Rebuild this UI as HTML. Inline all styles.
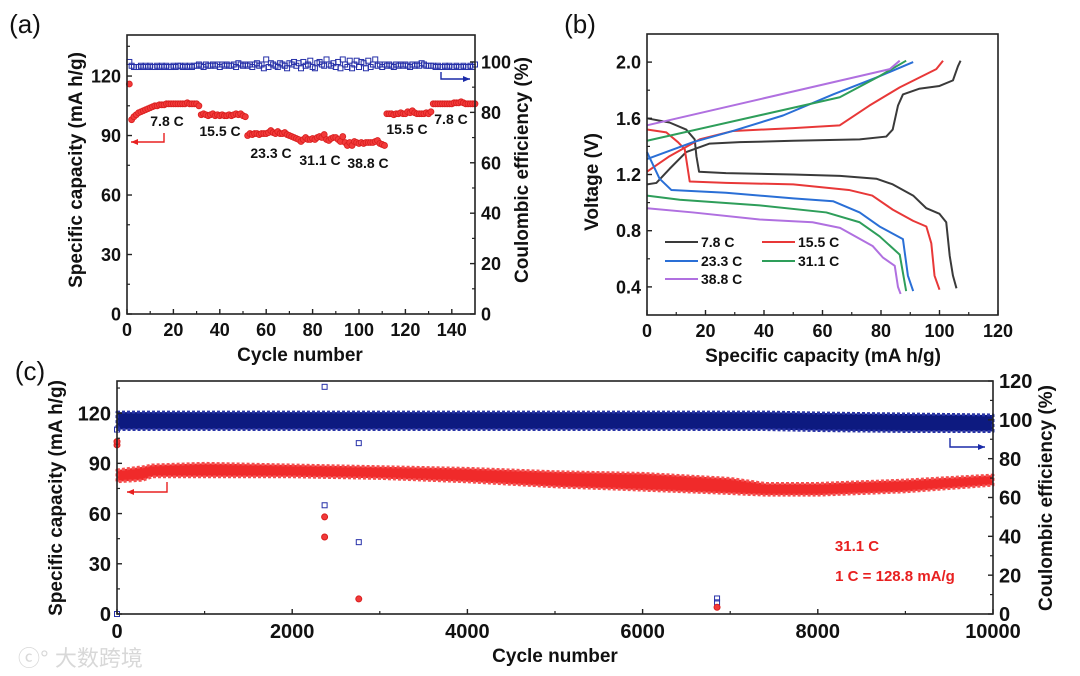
<!DOCTYPE html>
<html><head><meta charset="utf-8"><style>
html,body{margin:0;padding:0;background:#fff;}
svg{display:block;font-family:"Liberation Sans",Arial,sans-serif;}
.t{font-weight:bold;fill:#111;}
</style></head><body>
<svg id="fig" width="1080" height="676" viewBox="0 0 1080 676" xmlns="http://www.w3.org/2000/svg">
<g id="wm"><text x="18" y="666" font-size="22" fill="#d8d8d8" font-family="'Liberation Sans','Noto Sans CJK SC',sans-serif">ⓒ° 大数跨境</text></g>
</svg>
<script>
// ---------- Panel (a) data ----------
const aCap = [116,
98,99.5,100.5,101.5,102,102.5,103,103.5,104,104.5,105,105,105.5,105.5,105.5,106,106,106,106,106,106,106,106,106,106.5,106,106,106,106,105,
100.5,101,100.5,100,100.5,101,100,100.5,100,100.5,100,100,100.5,100,100.5,101,100.5,101,100,99.5,
90,91,90.5,91,91,90.5,91,91,91,91.5,92.5,91.5,91,92,91,91,91.5,90.5,90,89.5,
89,88.5,88,87,88,89,88,88,88.5,88,89,89.5,89,90.5,88,87.5,88.5,89,89,88,
87,89.5,86.5,85,86.5,85,87,86.5,86,86.5,86,86.5,86.5,86.5,86.5,87,87.5,86,85.5,85,
101,101,101,100.5,101,101,101.5,101,101,102,101.5,102.5,101.5,101,101,101,101,101.5,101,102,
106,106,106,106,106,106,106,106,106,106.5,106.5,106.5,107,106.5,106,106,106,106,106];
const aCE = [100,
98.5,98,98,98,98.5,98,98.5,98,98.5,98,98,98.5,98,98.5,98,98.5,98,98,98.5,98,98.5,98.5,98,98.5,98,98.5,98,98.5,98.5,
99,98.5,98,99,98.5,98.5,99,98.5,99,98,99,98.5,99,98.5,98.5,99,98,99.5,99,98.5,
99,98.5,99,98,99,99.5,98.5,99,97.5,101,98,99.5,99,98.5,98,99.5,99,98.5,97.5,99.5,
99,100,98.5,99.5,97.5,100,98.5,99,100.5,98,97.5,99.5,100,99,98.5,101,99,98.5,99.5,98,
100,97.5,101,99,98,100.5,97.5,99,100.5,98,100,99.5,97.5,100.5,98,99,101,98.5,99,98,
99,98.5,99,98.5,98,99,98.5,99,98.5,99,98.5,98,99,98.5,99,98.5,99.5,99,98.5,98.5,
98.5,98.5,98,98.5,98,98,98.5,98,98.5,98,98,98.5,98,98,98.5,98,98,98.5,98,99];
const aXTicks = [0,20,40,60,80,100,120,140];
const aYLTicks = [0,30,60,90,120];
const aYRTicks = [0,20,40,60,80,100];
const aRateLabels = ["7.8 C","15.5 C","23.3 C","31.1 C","38.8 C","15.5 C","7.8 C"];

// ---------- Panel (b) data ----------
const bNames = ["7.8 C","15.5 C","23.3 C","31.1 C","38.8 C"];
const bChargeCap = [
 [0,3.2,7.7,13.4,21.4,31.7,50,72.7,81.8,84,85.8,87.5,93,100,104.6,106.3,107.2],
 [0,7.7,18,29.4,50,65.9,76,86.4,98.9,101.2],
 [0,15.7,29.4,46.5,63.6,78.4,91],
 [0,65.9,79.5,88.6],
 [0,83,86.4]];
const bChargeV = [
 [1.13,1.14,1.24,1.36,1.42,1.43,1.44,1.45,1.47,1.52,1.69,1.77,1.81,1.83,1.87,1.97,2.01],
 [1.22,1.33,1.45,1.51,1.53,1.55,1.69,1.82,1.95,2.01],
 [1.31,1.43,1.51,1.62,1.77,1.89,2.0],
 [1.44,1.75,1.9,2.01],
 [1.55,1.95,2.01]];
const bDisCap = [
 [0,7.7,13.4,16.3,16.9,17.8,27,50,66,78.4,84,91,95.5,100,102.3,103.5,104.6,105.8],
 [0,6.6,10.6,12.9,14.6,27,50,69,77,84,91,95.5,97.2,98.3,100],
 [0,4.3,8.3,27,50,63.6,72.7,79.5,87.5,89.2,91],
 [0,11.2,38.5,61.3,72.7,79.5,86.4,87.5,88.6],
 [0,15.7,38.5,56.6,66,77.2,80.6,84.7,85.8,86.7]];
const bDisV = [
 [1.6,1.57,1.52,1.45,1.33,1.22,1.21,1.2,1.19,1.17,1.13,1.05,0.96,0.92,0.86,0.62,0.48,0.39],
 [1.52,1.5,1.43,1.38,1.15,1.14,1.13,1.09,1.05,0.95,0.87,0.83,0.71,0.48,0.38],
 [1.36,1.17,1.09,1.07,1.03,1.01,0.93,0.83,0.74,0.48,0.37],
 [1.05,1.02,0.98,0.93,0.86,0.76,0.63,0.5,0.37],
 [0.96,0.93,0.88,0.86,0.82,0.69,0.61,0.55,0.4,0.35]];
const bXTicks = [0,20,40,60,80,100,120];
const bYTicks = [0.4,0.8,1.2,1.6,2.0];

// ---------- Panel (c) data ----------
const cBandCycles = [0,300,400,1000,2000,3000,4000,5000,6000,7000,7400,8000,9000,10000];
const cCapUpper = [86,88,89,90,89,88,87,85,84,81,78,78,80,83];
const cCapLower = [79,80,82,82,82,81,79,76,74,72,71,71,73,77];
const cCEUpper = [104,104,104,104,104,104,104,104,104,104,104,103.5,103,102.5];
const cCELower = [95,95,95,95,95,95,95,95,95,95,95,94.5,94,94];
const cCapOutCycle = [0,0,2370,2370,2760,6850];
const cCapOutVal = [101,103,58,46,9,4];
const cCEOutCycle = [0,0,2370,2370,2760,2760,6850,6850];
const cCEOutVal = [0,95,117,56,88,37,6,8];
const cXTicks = [0,2000,4000,6000,8000,10000];
const cYLTicks = [0,30,60,90,120];
const cYRTicks = [0,20,40,60,80,100,120];

const NS = "http://www.w3.org/2000/svg";
const svg = document.getElementById('fig');
function mk(tag, attrs, parent, txt){
  const e = document.createElementNS(NS, tag);
  for (const k in attrs) e.setAttribute(k, attrs[k]);
  if (txt !== undefined) e.textContent = txt;
  (parent || svg).appendChild(e);
  return e;
}
function lin(d0,d1,r0,r1){ return v => r0 + (v-d0)/(d1-d0)*(r1-r0); }
function grp(name){
  const g = mk('g', {});
  
  
  return g;
}
function frame(g, L, R, T, B){
  const r = mk('rect', {x:L, y:T, width:R-L, height:B-T, fill:'none', stroke:'#222', 'stroke-width':1.6}, g);
  
  
}
function xAxis(g, sx, ticks, minorStep, B, fs, dy, lim){
  const ax = grp('x-axis'); g.appendChild(ax);
  ticks.forEach(t => {
    mk('line', {x1:sx(t), x2:sx(t), y1:B, y2:B-5, stroke:'#222','stroke-width':1.4}, ax);
    const tx = mk('text', {x:sx(t), y:B+dy, 'font-size':fs, 'text-anchor':'middle', class:'t'}, ax, t);
    
    
    const m = t+minorStep;
    if (m < lim) { const x = sx(m); mk('line', {x1:x, x2:x, y1:B, y2:B-3, stroke:'#222','stroke-width':1.2}, ax); }
  });
}
function yAxis(g, sy, ticks, minorStep, X, dir, fs, fmt, lim){
  const ax = grp(dir<0 ? 'y-axis-left' : 'y-axis-right'); g.appendChild(ax);
  ticks.forEach(t => {
    const y = sy(t);
    mk('line', {x1:X, x2:X-dir*5, y1:y, y2:y, stroke:'#222','stroke-width':1.4}, ax);
    const tx = mk('text', {x:X+dir*6, y:y+fs*0.36, 'font-size':fs, 'text-anchor':dir<0?'end':'start', class:'t'}, ax, fmt(t));
    
    
    const m = t+minorStep;
    if (m < lim) { const ym = sy(m); mk('line', {x1:X, x2:X-dir*3, y1:ym, y2:ym, stroke:'#222','stroke-width':1.2}, ax); }
  });
}
function label(g, txt, x, y, fs, rot, name, fill){
  const t = mk('text', {x:x, y:y, 'font-size':fs, 'text-anchor':'middle', class:'t', transform: rot ? `rotate(-90 ${x} ${y})` : ''}, g, txt);
  if (fill) t.setAttribute('style', 'fill:'+fill);
  
  
  return t;
}
function arrow(g, pts, color, name){
  const a = mk('polyline', {points: pts.map(p=>p.join(',')).join(' '), fill:'none', stroke:color, 'stroke-width':1.4}, g);
  
  
  const [x2,y2] = pts[pts.length-1], [x1] = pts[pts.length-2];
  const d = x2 > x1 ? 1 : -1;
  mk('polygon', {points:`${x2},${y2} ${x2-d*7},${y2-3} ${x2-d*7},${y2+3}`, fill:color}, g);
}

// ======== Panel (a) ========
(function(){
  const L=127,R=475,T=35,B=314;
  const sx = lin(0,150,L,R), sy = lin(0,140.7,B,T), syR = lin(0,110.7,B,T);
  const g = grp('panel-a');
  label(g, '(a)', 25, 33, 26, false, 'panel-a-label').setAttribute('style','font-weight:normal');
  const ce = grp('ce-series-a'); g.appendChild(ce);
  aCE.forEach((v,i) => {
    const s = mk('rect', {x:sx(i+1)-2.5, y:syR(v)-2.5, width:5, height:5, fill:'none', stroke:'#2630a8', 'stroke-width':1}, ce);
    
    
  });
  const cap = grp('capacity-series-a'); g.appendChild(cap);
  aCap.forEach((v,i) => {
    const c = mk('circle', {cx:sx(i+1), cy:sy(v), r:3, fill:'#f23a3a', stroke:'#d81e1e', 'stroke-width':0.8}, cap);
    
    
  });
  frame(g,L,R,T,B);
  xAxis(g, sx, aXTicks, 10, B, 18, 22, 150);
  yAxis(g, sy, aYLTicks, 15, L, -1, 18, t=>t, 140);
  yAxis(g, syR, aYRTicks, 10, R, 1, 18, t=>t, 110);
  label(g, 'Cycle number', 300, 361, 19, false, 'x-axis-title-a');
  label(g, 'Specific capacity (mA h/g)', 82, 170, 19, true, 'y-axis-title-a');
  label(g, 'Coulombic efficiency (%)', 528, 170, 19, true, 'y2-axis-title-a');
  const pos = [[167,126],[220,136],[271,158],[320,165],[368,168],[407,134],[451,124]];
  aRateLabels.forEach((t,i) => label(g, t, pos[i][0], pos[i][1], 14, false, 'rate-label'));
  arrow(g, [[164,133],[164,142],[131,142]], '#e82020', 'capacity-axis-arrow');
  arrow(g, [[441,72],[441,79],[470,79]], '#1a2aa8', 'ce-axis-arrow');
})();

// ======== Panel (b) ========
(function(){
  const L=647,R=998,T=34,B=315;
  const sx = lin(0,120,L,R), sy = lin(0.2,2.2,B,T);
  const cols = ['#3a3a3a','#e83838','#2a6fd6','#2e9e5a','#b070e0'];
  const g = grp('panel-b');
  label(g, '(b)', 580, 33, 26, false, 'panel-b-label').setAttribute('style','font-weight:normal');
  bNames.forEach((n,k) => {
    [[bChargeCap[k],bChargeV[k],'charge'],[bDisCap[k],bDisV[k],'discharge']].forEach(([xs,ys,kind]) => {
      const p = mk('polyline', {points: xs.map((x,i)=>sx(x)+','+sy(ys[i])).join(' '), fill:'none', stroke:cols[k], 'stroke-width':2, 'stroke-linejoin':'round'}, g);
      
      
    });
  });
  frame(g,L,R,T,B);
  xAxis(g, sx, bXTicks, 10, B, 18, 22, 120);
  yAxis(g, sy, bYTicks, 0.2, L, -1, 18, t=>t.toFixed(1), 2.2);
  label(g, 'Specific capacity (mA h/g)', 823, 362, 19, false, 'x-axis-title-b');
  label(g, 'Voltage (V)', 598, 182, 19, true, 'y-axis-title-b');
  const lg = grp('legend-b'); g.appendChild(lg);
  const lp = [[665,242],[762,242],[665,261],[762,261],[665,279]];
  bNames.forEach((n,k) => {
    const e = grp('legend-entry'); lg.appendChild(e);
    mk('line', {x1:lp[k][0], x2:lp[k][0]+33, y1:lp[k][1], y2:lp[k][1], stroke:cols[k], 'stroke-width':2}, e);
    mk('text', {x:lp[k][0]+36, y:lp[k][1]+5, 'font-size':14, class:'t'}, e, n);
  });
})();

// ======== Panel (c) ========
(function(){
  const L=117,R=993,T=381,B=614;
  const sx = lin(0,10000,L,R), sy = lin(0,139.2,B,T), syR = lin(0,120,B,T);
  const g = grp('panel-c');
  label(g, '(c)', 30, 380, 26, false, 'panel-c-label').setAttribute('style','font-weight:normal');
  function band(up, lo, ys, fill, stroke, name){
    const pts = cBandCycles.map((c,i)=>sx(c)+','+ys(up[i])).concat(cBandCycles.slice().reverse().map((c,j)=>{const i=cBandCycles.length-1-j; return sx(c)+','+ys(lo[i]);}));
    const p = mk('polygon', {points: pts.join(' '), fill:fill, stroke:stroke, 'stroke-width':3, 'stroke-dasharray':'3 2', 'stroke-linejoin':'round'}, g);
    
    
  }
  band(cCEUpper, cCELower, syR, '#0d1a80', '#2a35a8', 'ce-band');
  band(cCapUpper, cCapLower, sy, '#f02a2a', '#f55050', 'capacity-band');
  cCEOutCycle.forEach((c,i) => {
    const s = mk('rect', {x:sx(c)-2.5, y:syR(cCEOutVal[i])-2.5, width:5, height:5, fill:'none', stroke:'#2630a8','stroke-width':1}, g);
    
    
  });
  cCapOutCycle.forEach((c,i) => {
    const s = mk('circle', {cx:sx(c), cy:sy(cCapOutVal[i]), r:3, fill:'#f23a3a', stroke:'#d81e1e'}, g);
    
    
  });
  frame(g,L,R,T,B);
  xAxis(g, sx, cXTicks, 1000, B, 20, 24, 10000);
  yAxis(g, sy, cYLTicks, 15, L, -1, 20, t=>t, 139);
  yAxis(g, syR, cYRTicks, 10, R, 1, 20, t=>t, 120);
  label(g, 'Cycle number', 555, 662, 19, false, 'x-axis-title-c');
  label(g, 'Specific capacity (mA h/g)', 62, 498, 19, true, 'y-axis-title-c');
  label(g, 'Coulombic efficiency (%)', 1052, 498, 19, true, 'y2-axis-title-c');
  label(g, '31.1 C', 857, 551, 15, false, 'rate-annotation', '#e82020');
  label(g, '1 C = 128.8 mA/g', 895, 581, 15, false, 'rate-definition', '#e82020');
  arrow(g, [[167,482],[167,492],[127,492]], '#e82020', 'capacity-axis-arrow');
  arrow(g, [[950,438],[950,447],[985,447]], '#1a2aa8', 'ce-axis-arrow');
})();
</script>
</body></html>
